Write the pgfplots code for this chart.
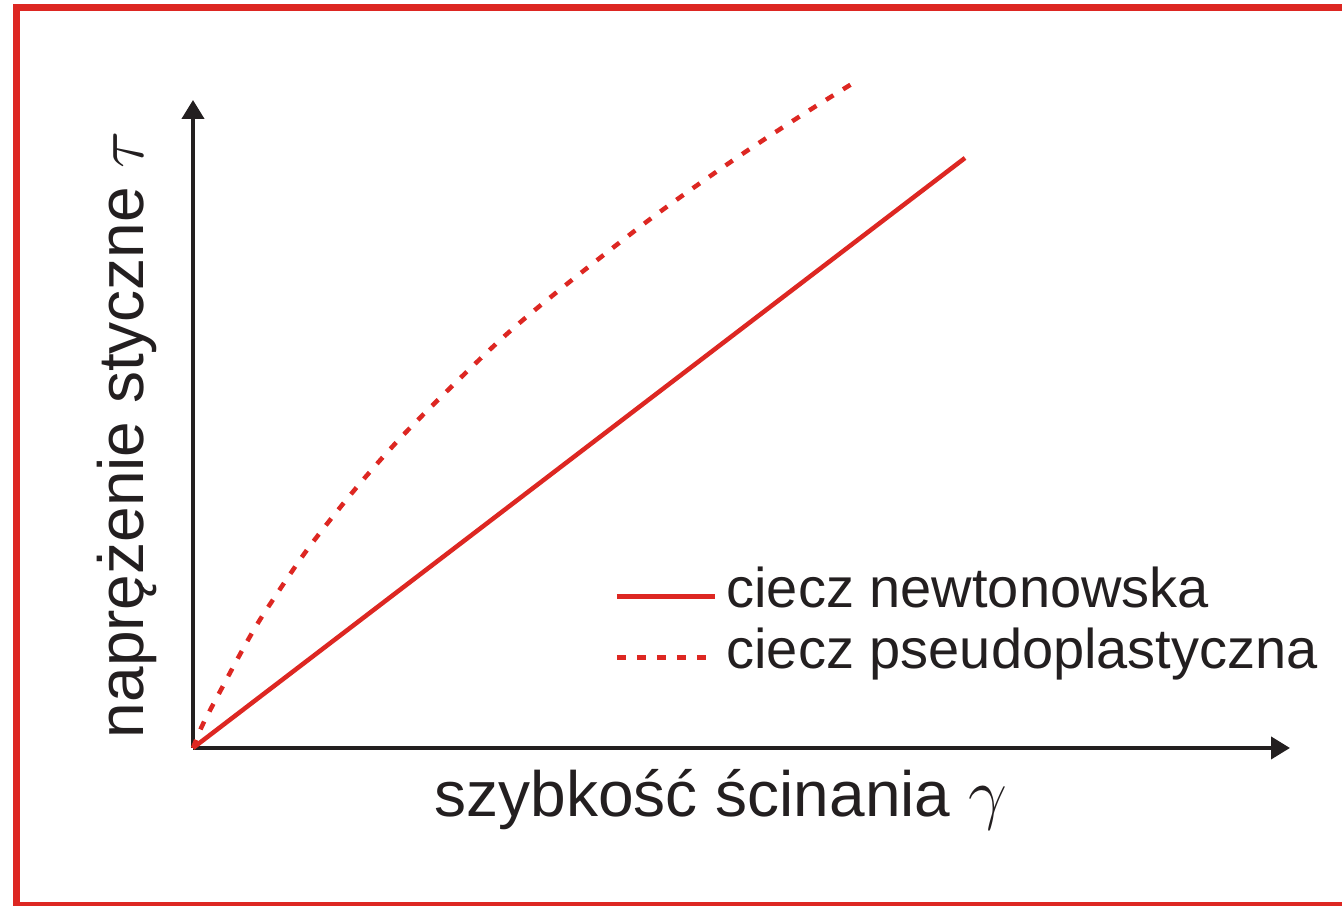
\documentclass[border=0pt]{standalone}
\usepackage{fontspec}
\setmainfont{Liberation Sans}
\usepackage{pgfplots}
\pgfplotsset{compat=1.18}
\usetikzlibrary{arrows.meta}

\definecolor{frred}{RGB}{221,39,34}
\definecolor{ink}{RGB}{35,31,32}

\begin{document}
\begin{tikzpicture}
% red frame, cut at the right and bottom edges
\begin{scope}
\clip (0,0) rectangle (402.6pt,271.8pt);
\draw[frred, line width=2.1pt] (4.95pt,0.15pt) rectangle (408pt,269.55pt);
\end{scope}

\begin{axis}[
    at={(57.9pt,47.4pt)}, anchor=south west,
    x=0.3pt, y=0.3pt,
    xmin=0, xmax=1097, ymin=0, ymax=648,
    axis lines=left,
    axis line style={ink, line width=1.2pt, -{Triangle[length=5.7pt,width=6.6pt]}},
    xtick=\empty, ytick=\empty,
    clip=false,
    legend cell align=left,
    legend style={draw=none, fill=none, inner sep=0pt,
        at={(0.3838,0.282)}, anchor=north west,
        font=\fontsize{16.8}{18}\selectfont, text=ink,
        nodes={inner sep=0pt, text height=12.5pt, text depth=5.8pt},
        /tikz/every odd column/.append style={column sep=2.8pt}},
    legend image code/.code={\draw[#1] (0pt,0pt) -- (29.4pt,0pt);},
]
\addplot[frred, line width=1.35pt] coordinates {(0,0) (772,590)};
\addlegendentry{ciecz newtonowska}

\addplot[frred, line width=1.35pt, dash pattern=on 2.6pt off 3.4pt, smooth] coordinates {
    (0,0) (10,24) (30,62) (50,99) (70,133) (114,198) (164,261) (217,320)
    (304,405) (364,456) (460,531) (542,589) (609,633) (662,666)
};
\addlegendentry{ciecz pseudoplastyczna}

\node[ink, font=\fontsize{19.2}{21}\selectfont] at (axis cs:528,-52) {szybkość ścinania $\gamma$};
\node[ink, rotate=90, font=\fontsize{19.2}{21}\selectfont] at (axis cs:-66,313) {naprężenie styczne $\tau$};
\end{axis}

\pgfresetboundingbox
\path[use as bounding box] (0,0) rectangle (402.6pt,271.8pt);
\end{tikzpicture}
\end{document}
